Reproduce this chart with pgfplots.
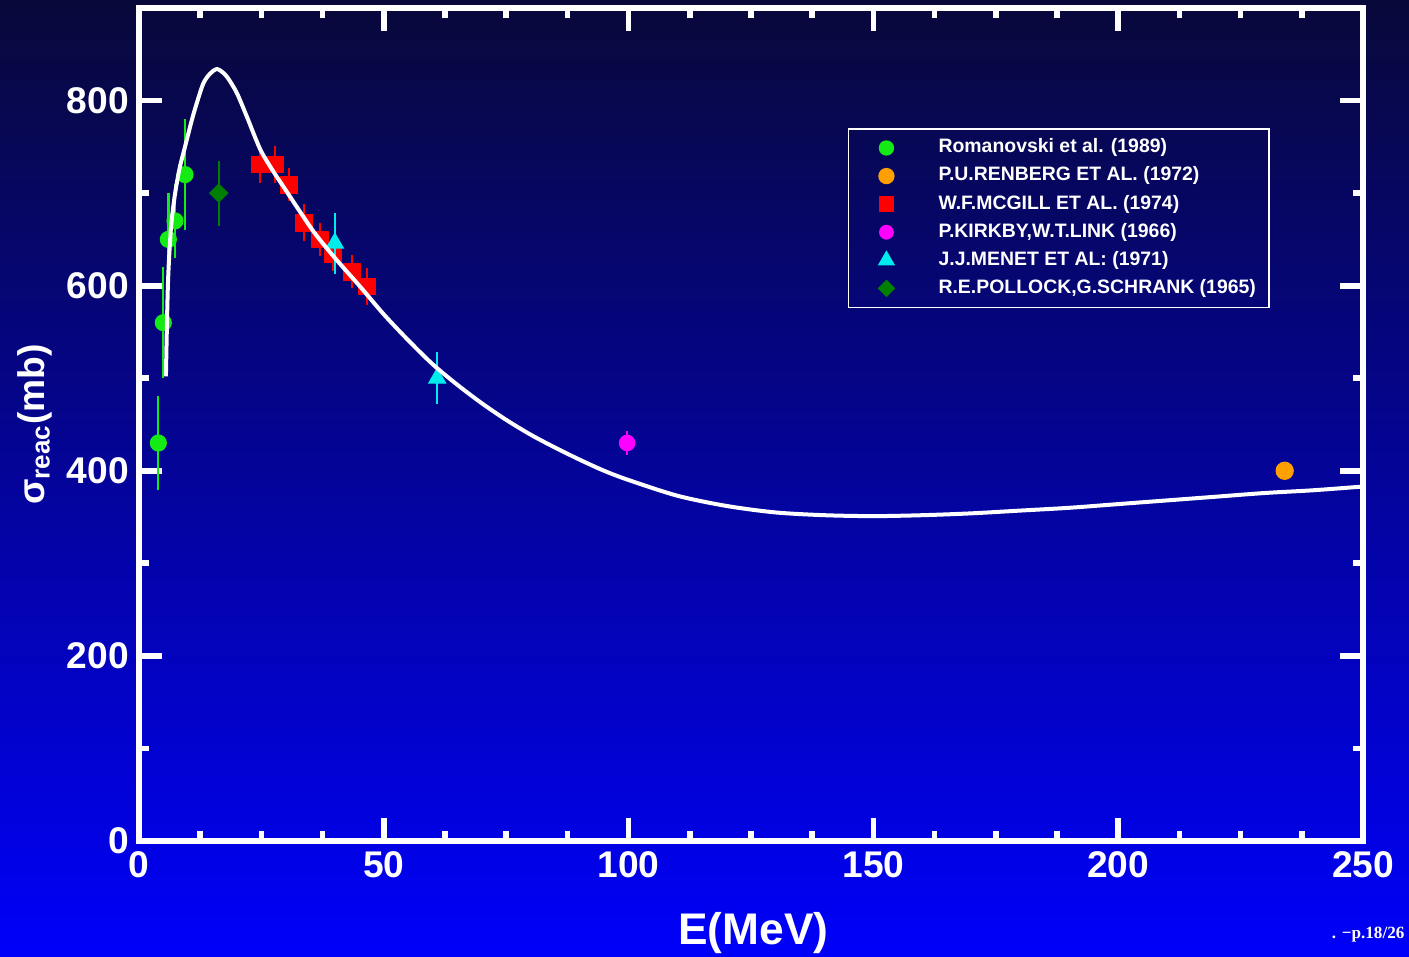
\documentclass[border=0pt]{standalone}
\usepackage{fontspec}
\setmainfont{Liberation Sans}
\newfontfamily\notefont{Liberation Serif}
\usepackage{pgfplots}
\pgfplotsset{compat=1.18}

\definecolor{bgtop}{RGB}{8,8,58}
\definecolor{bgmid}{RGB}{0,0,140}
\definecolor{bgbot}{RGB}{0,0,250}
\definecolor{romgreen}{RGB}{20,235,20}
\definecolor{renorange}{RGB}{255,160,0}
\definecolor{mcred}{RGB}{255,0,0}
\definecolor{kirkmag}{RGB}{255,0,255}
\definecolor{mencyan}{RGB}{0,235,235}
\definecolor{poldark}{RGB}{0,128,0}

\begin{document}
\begin{tikzpicture}
% slide background, 1409x957 px at 0.35pt per px
\shade[top color=bgtop, middle color=bgmid, bottom color=bgbot]
  (-48.65pt,-40.6pt) rectangle (444.5pt,294.35pt);
\begin{axis}[
    at={(0pt,0pt)}, anchor=south west,
    scale only axis, width=428.4pt, height=291.55pt,
    xmin=0, xmax=250, ymin=0, ymax=900,
    xtick={0,50,...,250}, ytick={0,200,...,800},
    minor x tick num=3, minor y tick num=1,
    tick align=inside,
    major tick length=8pt, minor tick length=3.5pt,
    every tick/.style={white, line width=2pt},
    axis line style={white, line width=1.8pt},
    tick label style={text=white, font=\bfseries\fontsize{13}{13}\selectfont},
    /pgf/number format/assume math mode=true,
    clip marker paths=true,
    xlabel={E(MeV)},
    ylabel={σ\textsubscript{reac}(mb)},
    every axis x label/.style={at={(axis description cs:0.502,-0.11)}, anchor=center,
        text=white, font=\bfseries\fontsize{15.5}{16}\selectfont},
    every axis y label/.style={at={(axis description cs:-0.085,0.5)}, anchor=center, rotate=90,
        text=white, font=\bfseries\fontsize{13}{14}\selectfont},
    legend style={at={(axis description cs:0.579,0.856)}, anchor=north west,
        draw=white, line width=0.6pt, fill=none, text=white,
        font=\bfseries\fontsize{6.8}{7}\selectfont,
        inner xsep=4pt, inner ysep=3pt, row sep=2.4pt,
        nodes={inner sep=0.5pt},
        /tikz/every odd column/.append style={column sep=8.4pt}},
    legend cell align=left,
    legend image code/.code={\path[draw=none, fill=none] (0pt,-2pt) rectangle (18.6pt,2pt);
        \draw[#1, scale=0.85] plot coordinates {(10.9pt,0pt)};},
    error bars/y dir=both, error bars/y explicit,
    error bars/error mark=none,
]
\addplot[only marks, mark=*, mark size=2.8pt, color=romgreen,
    error bars/error bar style={line width=0.8pt, romgreen}]
  coordinates {(3.95,430) +- (0,51) (4.97,560) +- (0,60) (6.0,650) +- (0,50)
               (7.35,670) +- (0,40) (9.4,720) +- (0,60)};
\addlegendentry{Romanovski et al. (1989)}
\addplot[only marks, mark=*, mark size=3pt, color=renorange]
  coordinates {(234,400)};
\addlegendentry{P.U.RENBERG ET AL. (1972)}
\addplot[only marks, mark=square*, mark size=2.9pt, color=mcred,
    error bars/error bar style={line width=0.8pt, mcred}]
  coordinates {(24.7,731) +- (0,20) (27.8,731) +- (0,20) (30.6,709) +- (0,18)
               (33.7,668) +- (0,20) (37,650) +- (0,18) (39.6,634) +- (0,18)
               (43.5,615) +- (0,18) (46.6,599) +- (0,20)};
\addlegendentry{W.F.MCGILL ET AL. (1974)}
\addplot[only marks, mark=*, mark size=2.7pt, color=kirkmag,
    error bars/error bar style={line width=0.8pt, kirkmag}]
  coordinates {(99.7,430) +- (0,13)};
\addlegendentry{P.KIRKBY,W.T.LINK (1966)}
\addplot[only marks, mark=triangle*, mark size=3.4pt, color=mencyan,
    error bars/error bar style={line width=0.8pt, mencyan}]
  coordinates {(40,646) +- (0,33) (60.9,500) +- (0,28)};
\addlegendentry{J.J.MENET ET AL: (1971)}
\addplot[only marks, mark=square*, mark size=2.2pt, mark options={rotate=45}, color=poldark,
    error bars/error bar style={line width=0.8pt, poldark}]
  coordinates {(16.3,700) +- (0,35)};
\addlegendentry{R.E.POLLOCK,G.SCHRANK (1965)}
% model curve
\addplot[white, line width=1.4pt, smooth, tension=0.5, forget plot]
  coordinates {(5.5,502) (5.9,600) (6.5,660) (7.3,697) (8.3,727) (9.4,750) (10.6,775)
    (11.5,792) (13.1,818) (14.5,829) (15.9,834) (17.2,830) (18.2,824) (20,808)
    (22,783) (24.7,748) (27,727) (30,703) (33,679) (36,656) (40,630) (45,600)
    (50,569) (55,541) (60,515) (65,493) (70,473) (75,455) (80,439) (85,425)
    (90,412) (95,400) (100,390) (110,373) (120,362) (130,355) (140,352) (150,351)
    (160,352) (170,354) (180,357) (190,360) (200,364) (210,368) (220,372)
    (230,376) (240,379) (250,383)};
\end{axis}
\node[anchor=east, text=white, inner sep=0pt, font=\notefont\bfseries\fontsize{6}{7}\selectfont]
  at (443.1pt,-32.9pt) {. −p.18/26};
\pgfresetboundingbox
\useasboundingbox (-48.65pt,-40.6pt) rectangle (444.5pt,294.35pt);
\end{tikzpicture}
\end{document}
